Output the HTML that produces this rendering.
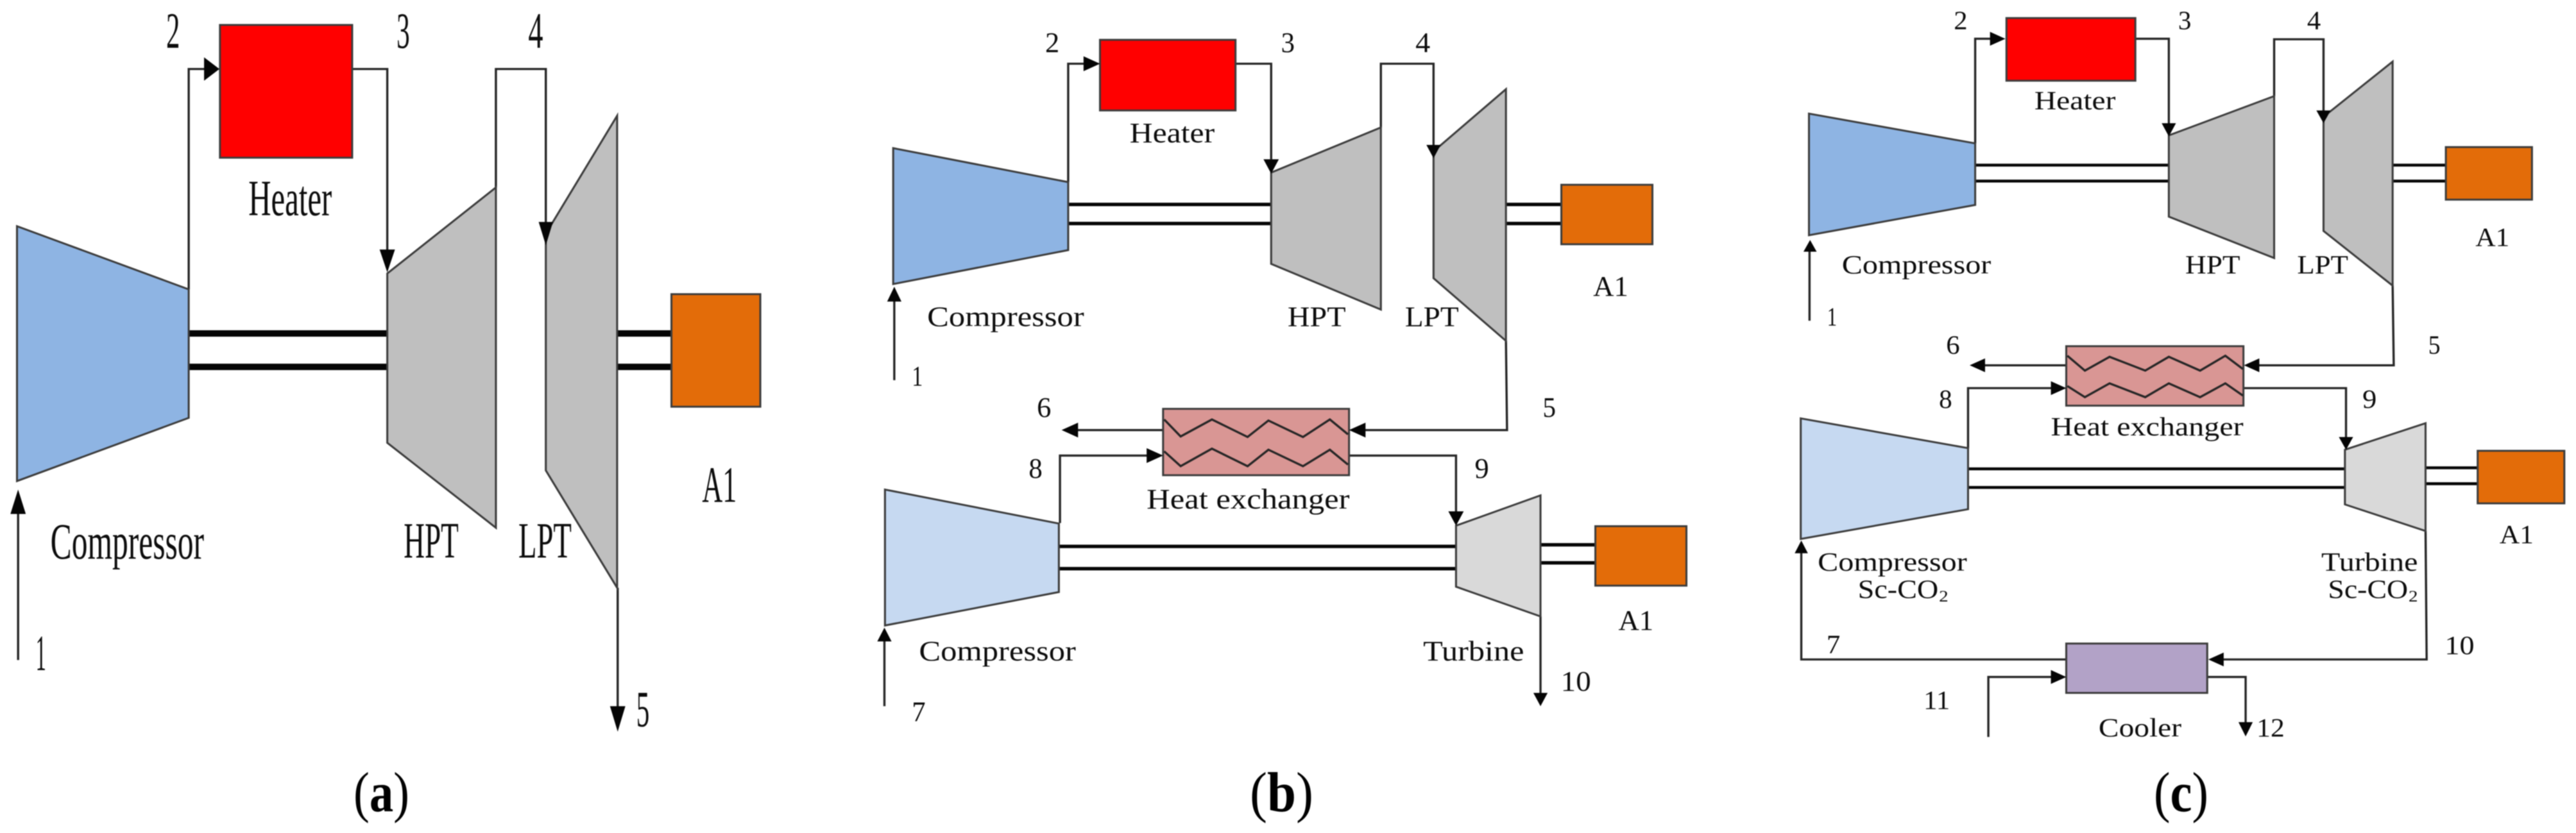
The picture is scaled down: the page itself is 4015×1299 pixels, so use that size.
<!DOCTYPE html>
<html><head><meta charset="utf-8"><style>
html,body{margin:0;padding:0;background:#fff;width:4015px;height:1299px;overflow:hidden}
svg{display:block;filter:blur(.7px)}
text{font-family:"Liberation Serif",serif;fill:#0c0c0c}
.s{stroke:#262626;stroke-width:4;fill:none}
.e{stroke:#3c3c3c;stroke-width:3.6}
.sh{stroke:#050505;fill:none}
.h{fill:#050505;stroke:none}
.cap{fill:#000}
</style></head><body>
<svg width="4015" height="1299" viewBox="0 0 4015 1299" xmlns="http://www.w3.org/2000/svg">
<rect width="4015" height="1299" fill="#fff"/>

<!-- PANEL A -->
<g transform="translate(0,0) scale(.855,.828)" font-size="96">
<path class="s" d="M344 545V130H375M642 130H706V480M904 353V130H995V425M33 1243V960M1126 1107V1340"/>
<path class="sh" stroke-width="12" d="M344 628H706M344 691H706M1125 628H1224M1125 691H1224"/>
<polygon class="e" fill="#8eb4e3" points="31,426 344,545 344,787 31,906"/>
<polygon class="e" fill="#bfbfbf" points="706,515 904,353 904,994 706,834"/>
<polygon class="e" fill="#bfbfbf" points="995,440 1125,218 1125,1107 995,886"/>
<rect class="e" fill="#ff0000" x="401" y="47" width="241" height="250"/>
<rect class="e" fill="#e36c09" x="1224" y="554" width="162" height="212"/>
<polygon class="h" points="400,130 372,108 372,152"/>
<polygon class="h" points="706,513 692,470 720,470"/>
<polygon class="h" points="995,462 982,418 1008,418"/>
<polygon class="h" points="33,922 19,968 47,968"/>
<polygon class="h" points="1126,1378 1112,1330 1140,1330"/>
<text x="303" y="90" textLength="25" lengthAdjust="spacingAndGlyphs">2</text>
<text x="723" y="90" textLength="24" lengthAdjust="spacingAndGlyphs">3</text>
<text x="963" y="90" textLength="27" lengthAdjust="spacingAndGlyphs">4</text>
<text x="453" y="405" textLength="152" lengthAdjust="spacingAndGlyphs">Heater</text>
<text x="92" y="1052" textLength="280" lengthAdjust="spacingAndGlyphs">Compressor</text>
<text x="736" y="1050" textLength="100" lengthAdjust="spacingAndGlyphs">HPT</text>
<text x="945" y="1050" textLength="97" lengthAdjust="spacingAndGlyphs">LPT</text>
<text x="1280" y="945" textLength="63" lengthAdjust="spacingAndGlyphs">A1</text>
<text x="65" y="1262" textLength="19" lengthAdjust="spacingAndGlyphs">1</text>
<text x="1160" y="1368" textLength="24" lengthAdjust="spacingAndGlyphs">5</text>
</g>

<!-- PANEL B -->
<g transform="translate(1340,0) scale(.855,.828)" font-size="54">
<path class="s" d="M380 343V120H410M685 120H750V300M950 240V120H1046V275M63 716V565M1178 642L1180 810H920M553 810H395M365 985V858H525M892 858H1087V965M1241 1161V1306M45 1330V1205"/>
<path class="sh" stroke-width="6.5" d="M380 385H750M380 421H750M1178 385H1279M1178 421H1279M363 1029H1087M363 1071H1087M1241 1026H1341M1241 1060H1341"/>
<polygon class="e" fill="#8eb4e3" points="61,279 380,343 380,471 61,535"/>
<polygon class="e" fill="#bfbfbf" points="750,325 950,240 950,583 750,497"/>
<polygon class="e" fill="#bfbfbf" points="1046,285 1178,168 1178,642 1046,524"/>
<rect class="e" fill="#ff0000" x="438" y="75" width="247" height="133"/>
<rect class="e" fill="#e36c09" x="1279" y="348" width="166" height="112"/>
<rect class="e" fill="#d99694" x="553" y="770" width="339" height="125"/>
<polyline class="s" stroke-width="3" points="555,790 585,822 642,790 707,823 745,792 808,823 857,790 890,818"/>
<polyline class="s" stroke-width="3" points="555,850 585,878 642,845 707,878 745,847 808,878 857,847 890,875"/>
<polygon class="e" fill="#c6d9f1" points="46,922 363,986 363,1115 46,1178"/>
<polygon class="e" fill="#d9d9d9" points="1087,990 1241,933 1241,1161 1087,1105"/>
<rect class="e" fill="#e36c09" x="1341" y="991" width="166" height="112"/>
<polygon class="h" points="438,120 408,106 408,134"/>
<polygon class="h" points="750,327 736,300 764,300"/>
<polygon class="h" points="1046,298 1033,273 1059,273"/>
<polygon class="h" points="63,540 50,568 76,568"/>
<polygon class="h" points="892,810 922,796 922,824"/>
<polygon class="h" points="368,810 398,796 398,824"/>
<polygon class="h" points="553,858 523,844 523,872"/>
<polygon class="h" points="1087,990 1073,963 1101,963"/>
<polygon class="h" points="1241,1330 1228,1305 1254,1305"/>
<polygon class="h" points="45,1182 32,1208 58,1208"/>
<text x="338" y="98" textLength="26" lengthAdjust="spacingAndGlyphs">2</text>
<text x="768" y="98" textLength="25" lengthAdjust="spacingAndGlyphs">3</text>
<text x="1013" y="98" textLength="27" lengthAdjust="spacingAndGlyphs">4</text>
<text x="492" y="268" textLength="155" lengthAdjust="spacingAndGlyphs">Heater</text>
<text x="123" y="614" textLength="286" lengthAdjust="spacingAndGlyphs">Compressor</text>
<text x="780" y="614" textLength="106" lengthAdjust="spacingAndGlyphs">HPT</text>
<text x="994" y="614" textLength="98" lengthAdjust="spacingAndGlyphs">LPT</text>
<text x="1337" y="557" textLength="64" lengthAdjust="spacingAndGlyphs">A1</text>
<text x="95" y="726" textLength="20" lengthAdjust="spacingAndGlyphs">1</text>
<text x="1245" y="785" textLength="24" lengthAdjust="spacingAndGlyphs">5</text>
<text x="323" y="785" textLength="26" lengthAdjust="spacingAndGlyphs">6</text>
<text x="308" y="900" textLength="25" lengthAdjust="spacingAndGlyphs">8</text>
<text x="1121" y="900" textLength="26" lengthAdjust="spacingAndGlyphs">9</text>
<text x="523" y="958" textLength="370" lengthAdjust="spacingAndGlyphs">Heat exchanger</text>
<text x="1383" y="1186" textLength="64" lengthAdjust="spacingAndGlyphs">A1</text>
<text x="108" y="1244" textLength="286" lengthAdjust="spacingAndGlyphs">Compressor</text>
<text x="1027" y="1244" textLength="184" lengthAdjust="spacingAndGlyphs">Turbine</text>
<text x="1278" y="1301" textLength="55" lengthAdjust="spacingAndGlyphs">10</text>
<text x="95" y="1358" textLength="25" lengthAdjust="spacingAndGlyphs">7</text>
</g>

<!-- PANEL C -->
<g transform="translate(2675,0) scale(.855,.828)" font-size="50">
<path class="s" d="M472 270V73H500M764 73H825V235M1017 181V74H1107V210M170 604V472M1233 538L1235 688H988M638 688H488M459 845V731H612M961 731H1148V825M1293 1000L1295 1242H922M638 1242H155V1040M496 1388V1275H612M895 1275H965V1365"/>
<path class="sh" stroke-width="5.5" d="M472 311H825M472 341H825M1233 311H1330M1233 341H1330M459 883H1146M459 918H1146M1293 881H1388M1293 911H1388"/>
<polygon class="e" fill="#8eb4e3" points="169,214 472,270 472,386 169,443"/>
<polygon class="e" fill="#bfbfbf" points="825,255 1017,181 1017,486 825,408"/>
<polygon class="e" fill="#bfbfbf" points="1107,220 1233,116 1233,538 1107,435"/>
<rect class="e" fill="#ff0000" x="529" y="34" width="235" height="118"/>
<rect class="e" fill="#e36c09" x="1330" y="277" width="157" height="99"/>
<rect class="e" fill="#d99694" x="638" y="652" width="323" height="112"/>
<polyline class="s" stroke-width="3" points="640,670 672,698 717,672 782,698 825,672 882,698 928,670 960,695"/>
<polyline class="s" stroke-width="3" points="640,727 672,748 717,722 782,748 825,722 882,748 928,722 960,745"/>
<polygon class="e" fill="#c6d9f1" points="154,788 459,844 459,959 154,1015"/>
<polygon class="e" fill="#d9d9d9" points="1146,847 1293,797 1293,1000 1146,950"/>
<rect class="e" fill="#e36c09" x="1388" y="849" width="158" height="99"/>
<rect class="e" fill="#b2a2c7" x="638" y="1212" width="257" height="93"/>
<polygon class="h" points="527,73 499,60 499,86"/>
<polygon class="h" points="825,257 812,232 838,232"/>
<polygon class="h" points="1107,232 1094,208 1120,208"/>
<polygon class="h" points="171,452 159,474 183,474"/>
<polygon class="h" points="962,688 990,675 990,701"/>
<polygon class="h" points="462,688 490,675 490,701"/>
<polygon class="h" points="638,731 610,718 610,744"/>
<polygon class="h" points="1148,847 1135,823 1161,823"/>
<polygon class="h" points="897,1242 925,1229 925,1255"/>
<polygon class="h" points="155,1018 143,1042 167,1042"/>
<polygon class="h" points="638,1275 610,1262 610,1288"/>
<polygon class="h" points="965,1387 952,1360 978,1360"/>
<text x="433" y="55" textLength="25" lengthAdjust="spacingAndGlyphs">2</text>
<text x="842" y="55" textLength="24" lengthAdjust="spacingAndGlyphs">3</text>
<text x="1077" y="55" textLength="25" lengthAdjust="spacingAndGlyphs">4</text>
<text x="580" y="206" textLength="148" lengthAdjust="spacingAndGlyphs">Heater</text>
<text x="229" y="515" textLength="272" lengthAdjust="spacingAndGlyphs">Compressor</text>
<text x="855" y="515" textLength="100" lengthAdjust="spacingAndGlyphs">HPT</text>
<text x="1059" y="515" textLength="93" lengthAdjust="spacingAndGlyphs">LPT</text>
<text x="1384" y="463" textLength="62" lengthAdjust="spacingAndGlyphs">A1</text>
<text x="202" y="613" textLength="18" lengthAdjust="spacingAndGlyphs">1</text>
<text x="1298" y="666" textLength="22" lengthAdjust="spacingAndGlyphs">5</text>
<text x="419" y="666" textLength="25" lengthAdjust="spacingAndGlyphs">6</text>
<text x="406" y="768" textLength="24" lengthAdjust="spacingAndGlyphs">8</text>
<text x="1178" y="768" textLength="26" lengthAdjust="spacingAndGlyphs">9</text>
<text x="610" y="820" textLength="351" lengthAdjust="spacingAndGlyphs">Heat exchanger</text>
<text x="1428" y="1023" textLength="62" lengthAdjust="spacingAndGlyphs">A1</text>
<text x="185" y="1075" textLength="272" lengthAdjust="spacingAndGlyphs">Compressor</text>
<text x="258" y="1126" textLength="147" lengthAdjust="spacingAndGlyphs">Sc-CO</text>
<text x="406" y="1133" font-size="30" textLength="17" lengthAdjust="spacingAndGlyphs">2</text>
<text x="1103" y="1075" textLength="176" lengthAdjust="spacingAndGlyphs">Turbine</text>
<text x="1115" y="1126" textLength="146" lengthAdjust="spacingAndGlyphs">Sc-CO</text>
<text x="1262" y="1133" font-size="30" textLength="17" lengthAdjust="spacingAndGlyphs">2</text>
<text x="1328" y="1232" textLength="54" lengthAdjust="spacingAndGlyphs">10</text>
<text x="201" y="1230" textLength="25" lengthAdjust="spacingAndGlyphs">7</text>
<text x="378" y="1335" textLength="48" lengthAdjust="spacingAndGlyphs">11</text>
<text x="985" y="1387" textLength="51" lengthAdjust="spacingAndGlyphs">12</text>
<text x="697" y="1387" textLength="151" lengthAdjust="spacingAndGlyphs">Cooler</text>
</g>

<!-- CAPTIONS -->
<text class="cap" x="551" y="1265" font-size="88" textLength="87" lengthAdjust="spacingAndGlyphs">(<tspan font-weight="bold">a</tspan>)</text>
<text class="cap" x="1948" y="1265" font-size="88" textLength="99" lengthAdjust="spacingAndGlyphs">(<tspan font-weight="bold">b</tspan>)</text>
<text class="cap" x="3357" y="1265" font-size="88" textLength="85" lengthAdjust="spacingAndGlyphs">(<tspan font-weight="bold">c</tspan>)</text>
</svg>
</body></html>
